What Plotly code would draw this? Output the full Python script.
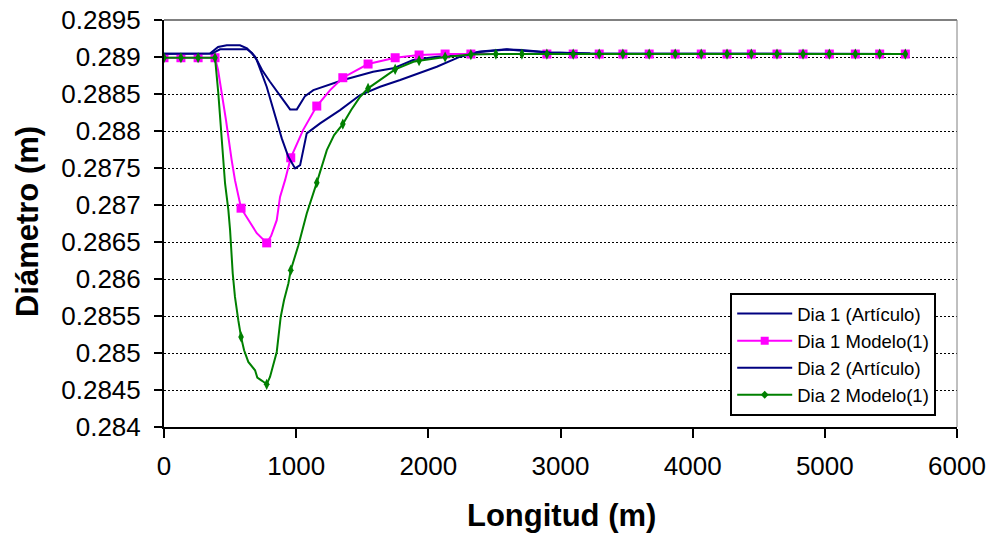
import plotly.graph_objects as go

# ---------------- data ----------------
# Dia 1 (Artículo)
d1_art_x = [0, 348, 409, 475, 575, 628, 689, 742, 802, 903, 954, 1005, 1067, 1130, 1355,
            1582, 1734, 1885, 2064, 2241, 2392, 2594, 2708, 2922, 3225, 5617]
d1_art_y = [0.289044, 0.289047, 0.289135, 0.289158, 0.289158, 0.289117, 0.289004, 0.288824,
            0.288666, 0.288418, 0.288292, 0.288292, 0.288472, 0.288553, 0.288689, 0.288801,
            0.288847, 0.288959, 0.289004, 0.289027, 0.289074, 0.289104, 0.289085, 0.28906,
            0.289047, 0.28904]

# Dia 2 (Artículo)
d2_art_x = [0, 363, 424, 628, 666, 702, 777, 827, 891, 941, 992, 1030, 1080, 1181, 1332,
            1484, 1635, 1787, 1885, 2064, 2241, 2392, 2594, 2708, 2922, 3225, 5617]
d2_art_y = [0.289044, 0.289047, 0.289104, 0.289104, 0.289054, 0.288959, 0.288598, 0.288283,
            0.2879, 0.287651, 0.287494, 0.287539, 0.287968, 0.288103, 0.288283, 0.288486,
            0.288598, 0.288689, 0.288756, 0.288868, 0.289004, 0.289067, 0.289101, 0.289094,
            0.28906, 0.289047, 0.28904]

# Dia 1 Modelo(1) - curve
d1_mod_x = [0, 386, 409, 437, 469, 512, 537, 583, 626, 702, 777, 810, 853, 878, 916, 959,
            1052, 1156, 1257, 1353, 1544, 1749, 1930, 2127, 5609]
d1_mod_y = [0.28899, 0.28899, 0.288824, 0.288513, 0.288148, 0.287607, 0.287336, 0.286957,
            0.28684, 0.286619, 0.286488, 0.286579, 0.286795, 0.28711, 0.287336, 0.287638,
            0.288012, 0.288337, 0.288553, 0.28872, 0.288905, 0.28899, 0.289027, 0.28904,
            0.28904]
# Dia 1 Modelo(1) - marked points
d1_pts_x = [0, 128, 258, 386, 583, 777, 959, 1156, 1353, 1544, 1749, 1930, 2127, 2322,
            2897, 3096, 3293, 3472, 3671, 3868, 4065, 4260, 4444, 4638, 4835, 5034, 5231,
            5415, 5609]
d1_pts_y = [0.28899, 0.28899, 0.28899, 0.28899, 0.286957, 0.286488, 0.287638, 0.288337,
            0.28872, 0.288905, 0.28899, 0.289027, 0.28904, 0.28904, 0.28904, 0.28904,
            0.28904, 0.28904, 0.28904, 0.28904, 0.28904, 0.28904, 0.28904, 0.28904,
            0.28904, 0.28904, 0.28904, 0.28904, 0.28904]

# Dia 2 Modelo(1) - curve
d2_mod_x = [0, 386, 411, 437, 462, 487, 500, 520, 537, 562, 583, 606, 638, 689, 706, 742,
            777, 802, 853, 883, 908, 941, 959, 1017, 1080, 1156, 1232, 1287, 1353, 1416,
            1484, 1544, 1686, 1749, 1887, 1930, 2127, 2322, 2511, 5609]
d2_mod_y = [0.28899, 0.28899, 0.288509, 0.287832, 0.287291, 0.28693, 0.28666, 0.286074,
            0.285758, 0.285443, 0.285217, 0.285037, 0.284879, 0.284766, 0.284668, 0.284624,
            0.284577, 0.284676, 0.285014, 0.285487, 0.285713, 0.285939, 0.286119, 0.286457,
            0.286886, 0.287302, 0.287742, 0.287945, 0.288093, 0.288283, 0.288463, 0.288576,
            0.288756, 0.288833, 0.288936, 0.28895, 0.289, 0.289033, 0.28904, 0.28904]
# Dia 2 Modelo(1) - marked points
d2_pts_x = [0, 128, 258, 386, 583, 777, 959, 1156, 1353, 1544, 1749, 1930, 2127, 2322,
            2511, 2708, 2897, 3096, 3293, 3472, 3671, 3868, 4065, 4260, 4444, 4638, 4835,
            5034, 5231, 5415, 5609]
d2_pts_y = [0.28899, 0.28899, 0.28899, 0.28899, 0.285217, 0.284577, 0.286119, 0.287302,
            0.288093, 0.288576, 0.288833, 0.28895, 0.289, 0.289033, 0.28904, 0.28904,
            0.28904, 0.28904, 0.28904, 0.28904, 0.28904, 0.28904, 0.28904, 0.28904,
            0.28904, 0.28904, 0.28904, 0.28904, 0.28904, 0.28904, 0.28904]

y_tickvals = [0.284, 0.2845, 0.285, 0.2855, 0.286, 0.2865, 0.287, 0.2875, 0.288, 0.2885,
              0.289, 0.2895]
y_ticktext = ["0.284", "0.2845", "0.285", "0.2855", "0.286", "0.2865", "0.287", "0.2875",
              "0.288", "0.2885", "0.289", "0.2895"]
x_tickvals = [0, 1000, 2000, 3000, 4000, 5000, 6000]

names = ["Dia 1 (Artículo)", "Dia 1 Modelo(1)", "Dia 2 (Artículo)", "Dia 2 Modelo(1)"]

# ---------------- styles ----------------
NAVY = "#000080"
PINK = "#FF00FF"
GREEN = "#008000"
FONT = "Liberation Sans, Arial, sans-serif"

fig = go.Figure()

# Dia 1 (Artículo)
fig.add_trace(go.Scatter(x=d1_art_x, y=d1_art_y, mode="lines", name=names[0],
                         legendgroup="g1", line=dict(color=NAVY, width=2)))
# Dia 1 Modelo(1)
fig.add_trace(go.Scatter(x=d1_mod_x, y=d1_mod_y, mode="lines", showlegend=False,
                         legendgroup="g2", line=dict(color=PINK, width=2)))
fig.add_trace(go.Scatter(x=d1_pts_x, y=d1_pts_y, mode="markers", showlegend=False,
                         legendgroup="g2",
                         marker=dict(symbol="square", size=9, color=PINK)))
fig.add_trace(go.Scatter(x=[None], y=[None], mode="lines+markers", name=names[1],
                         legendgroup="g2", line=dict(color=PINK, width=2),
                         marker=dict(symbol="square", size=8, color=PINK)))
# Dia 2 (Artículo)
fig.add_trace(go.Scatter(x=d2_art_x, y=d2_art_y, mode="lines", name=names[2],
                         legendgroup="g3", line=dict(color=NAVY, width=2)))
# Dia 2 Modelo(1)
fig.add_trace(go.Scatter(x=d2_mod_x, y=d2_mod_y, mode="lines", showlegend=False,
                         legendgroup="g4", line=dict(color=GREEN, width=2)))
fig.add_trace(go.Scatter(x=d2_pts_x, y=d2_pts_y, mode="markers", showlegend=False,
                         legendgroup="g4",
                         marker=dict(symbol="diamond-tall", size=8, color=GREEN)))
fig.add_trace(go.Scatter(x=[None], y=[None], mode="lines+markers", name=names[3],
                         legendgroup="g4", line=dict(color=GREEN, width=2),
                         marker=dict(symbol="diamond", size=6, color=GREEN)))

fig.update_layout(
    width=992, height=535,
    margin=dict(l=164, r=35, t=20, b=108, autoexpand=False),
    paper_bgcolor="white", plot_bgcolor="white",
    font=dict(family=FONT, color="black"),
    showlegend=True,
    legend=dict(
        x=0.714, y=0.329, xanchor="left", yanchor="top",
        bgcolor="white", bordercolor="black", borderwidth=2,
        font=dict(size=18.5, family=FONT, color="black"),
        itemwidth=55, tracegroupgap=4, traceorder="normal",
    ),
    xaxis=dict(
        range=[0, 6000], tickvals=x_tickvals, showgrid=False, zeroline=False,
        showline=True, linecolor="black", linewidth=2,
        ticks="outside", ticklen=9, tickwidth=2, tickcolor="black",
        tickfont=dict(size=26, family=FONT, color="black"),
        ticklabelstandoff=6,
        automargin=False,
    ),
    yaxis=dict(
        range=[0.284, 0.2895], tickvals=y_tickvals, ticktext=y_ticktext,
        showgrid=True, gridcolor="black", gridwidth=1.2, griddash="2px,2px",
        zeroline=False, showline=True, linecolor="black", linewidth=2,
        ticks="outside", ticklen=8, tickwidth=2, tickcolor="black",
        tickfont=dict(size=26, family=FONT, color="black"),
        ticklabelstandoff=8,
        automargin=False,
    ),
    annotations=[
        dict(text="<b>Diámetro (m)</b>", xref="paper", yref="paper", x=-0.172, y=0.505,
             xanchor="center", yanchor="middle", textangle=-90, showarrow=False,
             font=dict(size=31, family=FONT, color="black")),
        dict(text="<b>Longitud (m)</b>", xref="paper", yref="paper", x=0.501, y=-0.218,
             xanchor="center", yanchor="middle", showarrow=False,
             font=dict(size=31, family=FONT, color="black")),
    ],
    shapes=[
        dict(type="line", xref="paper", yref="paper", x0=0, x1=1, y0=1, y1=1,
             line=dict(color="#808080", width=2), layer="above"),
        dict(type="line", xref="paper", yref="paper", x0=1, x1=1, y0=0, y1=1,
             line=dict(color="#808080", width=1), layer="above"),
    ],
)

fig.write_html("out.html")
